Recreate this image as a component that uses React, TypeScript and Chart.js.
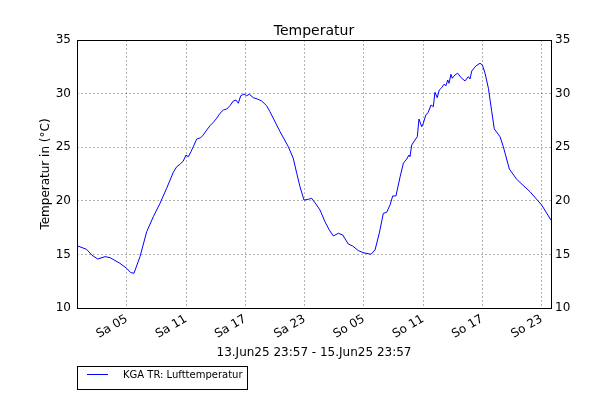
import React, { useEffect, useRef } from "react";
import { Chart, registerables } from "chart.js";

Chart.register(...registerables);

const chartTitle = "Temperatur";
const yAxisLabel = "Temperatur in (°C)";
const xAxisLabel = "13.Jun25 23:57 - 15.Jun25 23:57";
const seriesName = "KGA TR: Lufttemperatur";

// hours since 13.Jun25 23:57
const hours = [
  0, 0.98, 1.49, 2.1, 2.84, 3.34, 4.35, 5.03, 5.44, 5.77, 6.38, 7.06, 7.73, 8.41, 9.08,
  9.75, 10.1, 10.43, 10.76, 11.04, 11.27, 11.54, 11.78, 12.12, 12.53, 12.79, 13.13, 13.47,
  13.8, 14.15, 14.48, 14.82, 15.16, 15.49, 15.83, 16.1, 16.34, 16.58, 16.91, 17.18, 17.45,
  17.85, 18.26, 18.7, 19.2, 19.54, 20.56, 21.4, 21.9, 22.25, 22.58, 22.99, 23.42, 23.77,
  24.1, 24.61, 25.11, 25.55, 25.96, 26.46, 26.91, 27.47, 27.92, 28.49, 28.99, 29.77, 30.18,
  30.61, 31.02, 31.36, 31.7, 31.97, 32.3, 32.71, 33.05, 33.39, 33.62, 33.72, 33.89, 34.23,
  34.46, 34.63, 34.91, 35.07, 35.32, 35.57, 35.85, 36.08, 36.25, 36.48, 36.69, 36.93, 37.16,
  37.37, 37.54, 37.67, 37.87, 38.0, 38.28, 38.55, 38.89, 39.29, 39.63, 39.8, 39.97, 40.38,
  40.81, 41.05, 41.32, 41.66, 42.0, 42.26, 42.84, 43.17, 43.78, 44.53, 45.87, 47.06, 48.0,
];

const temperatures = [
  15.81, 15.47, 14.94, 14.57, 14.79, 14.7, 14.17, 13.7, 13.3, 13.24, 14.79, 17.12, 18.52, 19.77, 21.17,
  22.66, 23.18, 23.4, 23.71, 24.27, 24.11, 24.58, 25.05, 25.76, 25.89, 26.14, 26.6, 27.0,
  27.32, 27.7, 28.16, 28.47, 28.56, 28.87, 29.31, 29.4, 29.1, 29.8, 29.96, 29.8, 29.94,
  29.62, 29.5, 29.31, 28.87, 28.31, 26.45, 25.05, 23.96, 22.57, 21.32, 20.07, 20.14, 20.23,
  19.82, 19.14, 18.05, 17.28, 16.72, 16.97, 16.81, 15.97, 15.78, 15.35, 15.16, 15.01, 15.41,
  16.97, 18.83, 18.93, 19.61, 20.45, 20.45, 22.2, 23.5, 23.9, 24.27, 24.11, 25.2, 25.67,
  25.98, 27.63, 26.91, 27.23, 28.0, 28.26, 28.94, 28.78, 30.12, 29.62, 30.34, 30.55, 30.87,
  30.74, 31.27, 30.96, 31.8, 31.43, 31.74, 31.9, 31.49, 31.18, 31.58, 31.36, 32.1, 32.57,
  32.83, 32.67, 31.9, 30.5, 28.31, 26.7, 25.98, 25.05, 22.97, 22.0, 20.85, 19.6, 18.2,
];

const tickHours = [5.05, 11.05, 17.05, 23.05, 29.05, 35.05, 41.05, 47.05];
const tickLabels = ["Sa 05", "Sa 11", "Sa 17", "Sa 23", "So 05", "So 11", "So 17", "So 23"];

const FONT = "'DejaVu Sans', sans-serif";

const framePlugin = {
  id: "frameAndLegend",
  afterDatasetsDraw(chart: any) {
    const { ctx, chartArea } = chart;
    ctx.save();
    ctx.strokeStyle = "#000";
    ctx.lineWidth = 1;
    ctx.setLineDash([]);
    ctx.strokeRect(
      Math.round(chartArea.left) + 0.5,
      Math.round(chartArea.top) + 0.5,
      Math.round(chartArea.right - chartArea.left),
      Math.round(chartArea.bottom - chartArea.top)
    );
    ctx.restore();
  },
  afterDraw(chart: any) {
    const { ctx, chartArea } = chart;
    ctx.save();
    // title, centred over the plot area
    ctx.fillStyle = "#000";
    ctx.font = `14px ${FONT}`;
    ctx.textAlign = "center";
    ctx.textBaseline = "alphabetic";
    ctx.fillText(chartTitle, (chartArea.left + chartArea.right) / 2, 35);
    // legend box
    ctx.strokeStyle = "#000";
    ctx.lineWidth = 1;
    ctx.strokeRect(77.5, 366.5, 170, 23);
    ctx.strokeStyle = "#0000ff";
    ctx.beginPath();
    ctx.moveTo(87, 374.5);
    ctx.lineTo(108, 374.5);
    ctx.stroke();
    ctx.fillStyle = "#000";
    ctx.font = `10px ${FONT}`;
    ctx.textBaseline = "middle";
    ctx.textAlign = "left";
    ctx.fillText(seriesName, 123, 375);
    ctx.restore();
  },
};

export default function App() {
  const ref = useRef<HTMLCanvasElement | null>(null);
  useEffect(() => {
    if (!ref.current) return;
    const data = hours.map((h, i) => ({ x: h, y: temperatures[i] }));
    const gridOpts = {
      color: "rgba(0,0,0,0.3)",
      lineWidth: 1,
      drawTicks: false,
    };
    const chart = new Chart(ref.current, {
      type: "line",
      data: {
        datasets: [
          {
            label: seriesName,
            data,
            borderColor: "#0000ff",
            borderWidth: 1,
            pointRadius: 0,
            tension: 0,
            fill: false,
            xAxisID: "x",
            yAxisID: "y",
          },
        ],
      },
      plugins: [framePlugin],
      options: {
        responsive: false,
        animation: false,
        events: [],
        layout: { padding: { top: 40, left: 0, right: 0, bottom: 0 } },
        plugins: {
          legend: { display: false },
          tooltip: { enabled: false },
          title: { display: false },
        },
        scales: {
          x: {
            type: "linear",
            position: "bottom",
            min: 0,
            max: 48,
            afterBuildTicks: (scale: any) => {
              scale.ticks = tickHours.map((v) => ({ value: v }));
            },
            afterFit: (scale: any) => {
              scale.height = 88;
            },
            grid: gridOpts,
            border: { display: false, dash: [2, 2] },
            ticks: {
              autoSkip: false,
              maxRotation: 30,
              minRotation: 30,
              padding: 4,
              color: "#000",
              font: { family: FONT, size: 12 },
              callback: (_v: any, i: number) => tickLabels[i],
            },
            title: {
              display: true,
              text: xAxisLabel,
              color: "#000",
              font: { family: FONT, size: 12 },
              padding: { top: 0, bottom: 35.8 },
            },
          },
          y: {
            type: "linear",
            position: "left",
            min: 10,
            max: 35,
            afterFit: (scale: any) => {
              scale.width = 77;
            },
            grid: gridOpts,
            border: { display: false, dash: [2, 2] },
            ticks: {
              stepSize: 5,
              padding: 6,
              color: "#000",
              font: { family: FONT, size: 12 },
            },
            title: {
              display: true,
              text: yAxisLabel,
              color: "#000",
              font: { family: FONT, size: 12 },
              padding: { top: 38.8, bottom: 0 },
            },
          },
          y2: {
            type: "linear",
            position: "right",
            min: 10,
            max: 35,
            afterFit: (scale: any) => {
              scale.width = 61;
            },
            grid: { display: false, drawTicks: false },
            border: { display: false },
            ticks: {
              stepSize: 5,
              padding: 4,
              color: "#000",
              font: { family: FONT, size: 12 },
            },
          },
        },
      } as any,
    });
    return () => chart.destroy();
  }, []);
  return (
    <div style={{ position: "absolute", left: 0, top: 0, width: 612, height: 396, background: "#fff" }}>
      <canvas ref={ref} width={612} height={396} style={{ width: 612, height: 396, display: "block" }} />
    </div>
  );
}
